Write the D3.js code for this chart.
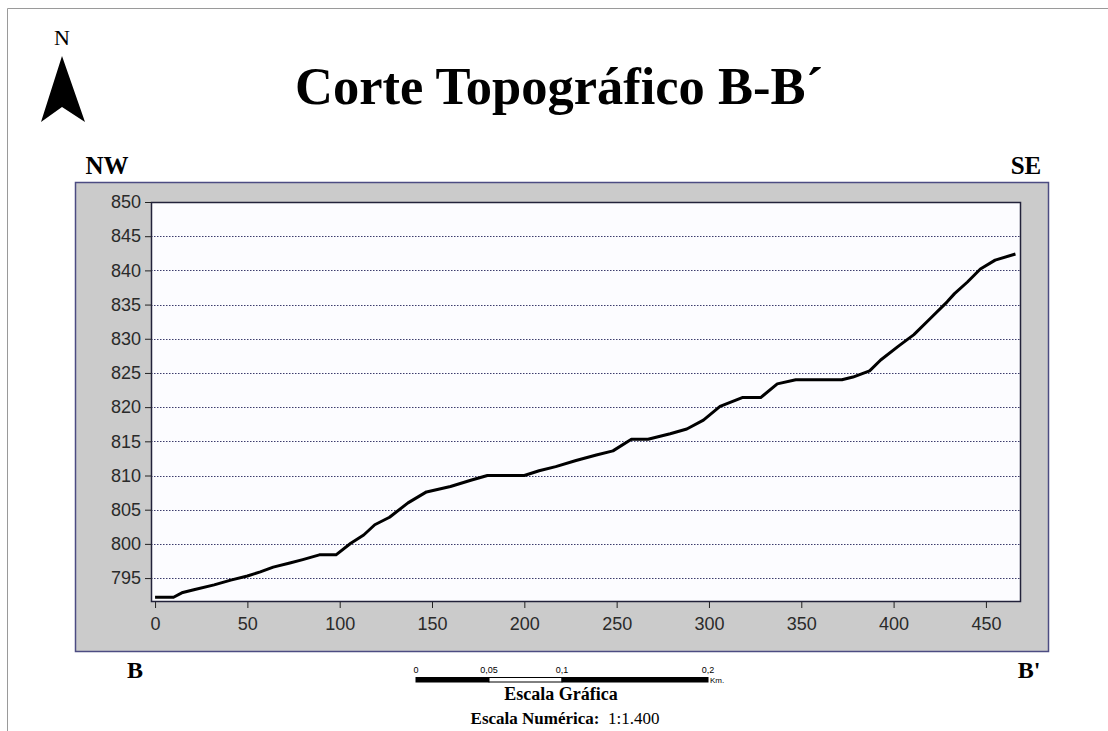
<!DOCTYPE html>
<html>
<head>
<meta charset="utf-8">
<script src="https://cdn.jsdelivr.net/npm/d3@7"></script>
<style>
  body { margin: 0; background: #fff; }
  svg { display: block; }
  .tick text { font-family: "Liberation Sans", Arial, sans-serif; font-size: 18px; fill: #2a2a2a; }
  .serif { font-family: "Liberation Serif", "Times New Roman", serif; }
</style>
</head>
<body>
<script>
// distance along the section (m) and elevation (m)
var distance = [0, 10, 15, 21, 32, 41, 50, 57, 64, 73, 80, 89, 98, 106, 113, 119, 127, 137, 147, 160,
  171, 180, 200, 208, 217, 228, 239, 248, 258, 267, 279, 288, 297, 306, 318, 328, 337, 347, 372, 378,
  387, 393, 403, 411, 420, 429, 433, 440, 447, 455, 466];
var elevation = [792.2, 792.2, 792.9, 793.3, 794.0, 794.7, 795.3, 795.9, 796.6, 797.2, 797.7, 798.4, 798.4, 800.1, 801.3, 802.8, 803.9, 806.0, 807.6, 808.4,
  809.3, 810.0, 810.0, 810.7, 811.3, 812.2, 813.0, 813.6, 815.3, 815.3, 816.1, 816.8, 818.1, 820.1, 821.4, 821.4, 823.4, 824.0, 824.0, 824.4,
  825.3, 826.9, 829.0, 830.6, 833.0, 835.4, 836.6, 838.3, 840.2, 841.5, 842.4];
var xTicks = [0, 50, 100, 150, 200, 250, 300, 350, 400, 450];
var yTicks = [795, 800, 805, 810, 815, 820, 825, 830, 835, 840, 845, 850];
var gridValues = [795, 800, 805, 810, 815, 820, 825, 830, 835, 840, 845];
var scaleKm = [0, 0.05, 0.1, 0.2];
var scaleLabels = ["0", "0,05", "0,1", "0,2"];

var W = 1108, H = 731;
var svg = d3.select("body").append("svg").attr("width", W).attr("height", H);

// page frame
svg.append("path").attr("d", "M7.5,731 V8.5 H1108")
  .attr("fill", "none").attr("stroke", "#9a9a9a").attr("stroke-width", 1);

// north arrow
svg.append("text").attr("class", "serif").attr("x", 62).attr("y", 45)
  .attr("text-anchor", "middle").attr("font-size", 22).text("N");
svg.append("path").attr("d", "M62,56 L85,122 L62,107 L41,122 Z").attr("fill", "#000");

// title
svg.append("text").attr("class", "serif").attr("x", 559).attr("y", 104)
  .attr("text-anchor", "middle").attr("font-size", 52.5).attr("font-weight", "bold")
  .text("Corte Topográfico B-B´");

// gray panel
svg.append("rect").attr("x", 75.5).attr("y", 182.5).attr("width", 973).attr("height", 469)
  .attr("fill", "#cbcbcb").attr("stroke", "#4c4c82").attr("stroke-width", 1.5);

var margin = { left: 151, top: 202, right: 1021, bottom: 602 };
var x = d3.scaleLinear().domain([-2.2, 469]).range([margin.left, margin.right]);
var y = d3.scaleLinear().domain([791.5, 850]).range([margin.bottom, margin.top]);

svg.append("rect").attr("x", margin.left).attr("y", margin.top)
  .attr("width", margin.right - margin.left).attr("height", margin.bottom - margin.top)
  .attr("fill", "#fcfcff");

// dotted gridlines
svg.append("g").selectAll("line").data(gridValues).join("line")
  .attr("x1", margin.left).attr("x2", margin.right)
  .attr("y1", function (d) { return Math.round(y(d)) + 0.5; })
  .attr("y2", function (d) { return Math.round(y(d)) + 0.5; })
  .attr("stroke", "#3c3c6c").attr("stroke-width", 1).attr("stroke-dasharray", "1.5,1.5");

// profile line
var line = d3.line()
  .x(function (d, i) { return x(distance[i]); })
  .y(function (d) { return y(d); });
svg.append("path").datum(elevation)
  .attr("d", line).attr("fill", "none").attr("stroke", "#000")
  .attr("stroke-width", 3).attr("stroke-linejoin", "round");

// plot frame
svg.append("rect").attr("x", margin.left + 0.5).attr("y", margin.top + 0.5)
  .attr("width", margin.right - margin.left - 1).attr("height", margin.bottom - margin.top - 1)
  .attr("fill", "none").attr("stroke", "#22223a").attr("stroke-width", 1.5);

var yAxis = d3.axisLeft(y).tickValues(yTicks).tickSize(6).tickSizeOuter(0).tickPadding(4);
var gY = svg.append("g").attr("transform", "translate(" + margin.left + ",0)").call(yAxis);
gY.select(".domain").remove();
gY.selectAll(".tick line").attr("stroke", "#222");

var xAxis = d3.axisBottom(x).tickValues(xTicks).tickSize(6).tickSizeOuter(0).tickPadding(9);
var gX = svg.append("g").attr("transform", "translate(0," + margin.bottom + ")").call(xAxis);
gX.select(".domain").remove();
gX.selectAll(".tick line").attr("stroke", "#222");

// orientation labels
function label(txt, xp, yp, size) {
  svg.append("text").attr("class", "serif").attr("x", xp).attr("y", yp)
    .attr("text-anchor", "middle").attr("font-size", size).attr("font-weight", "bold").text(txt);
}
label("NW", 107, 174, 25);
label("SE", 1026, 174, 25);
label("B", 135, 678, 24);
label("B'", 1029, 678, 24);

// graphic scale bar
var km = d3.scaleLinear().domain([0, 0.2]).range([416, 708]);
var segs = [[0, 0.05, "#000"], [0.05, 0.1, "#fff"], [0.1, 0.2, "#000"]];
svg.append("g").selectAll("rect").data(segs).join("rect")
  .attr("x", function (d) { return km(d[0]); }).attr("y", 677.5)
  .attr("width", function (d) { return km(d[1]) - km(d[0]); }).attr("height", 4.5)
  .attr("fill", function (d) { return d[2]; }).attr("stroke", "#000").attr("stroke-width", 1);
svg.append("g").selectAll("text").data(scaleKm).join("text")
  .attr("x", function (d) { return km(d); }).attr("y", 673)
  .attr("text-anchor", "middle").attr("font-family", "Liberation Sans, Arial, sans-serif")
  .attr("font-size", 9).text(function (d, i) { return scaleLabels[i]; });
svg.append("text").attr("x", 710).attr("y", 683).attr("font-family", "Liberation Sans, Arial, sans-serif")
  .attr("font-size", 8).text("Km.");

svg.append("text").attr("class", "serif").attr("x", 561).attr("y", 700)
  .attr("text-anchor", "middle").attr("font-size", 18).attr("font-weight", "bold").text("Escala Gráfica");
var num = svg.append("text").attr("class", "serif").attr("x", 565).attr("y", 724)
  .attr("text-anchor", "middle").attr("font-size", 17);
num.append("tspan").attr("font-weight", "bold").text("Escala Numérica:");
num.append("tspan").text("\u00a0\u00a01:1.400");
</script>
</body>
</html>
